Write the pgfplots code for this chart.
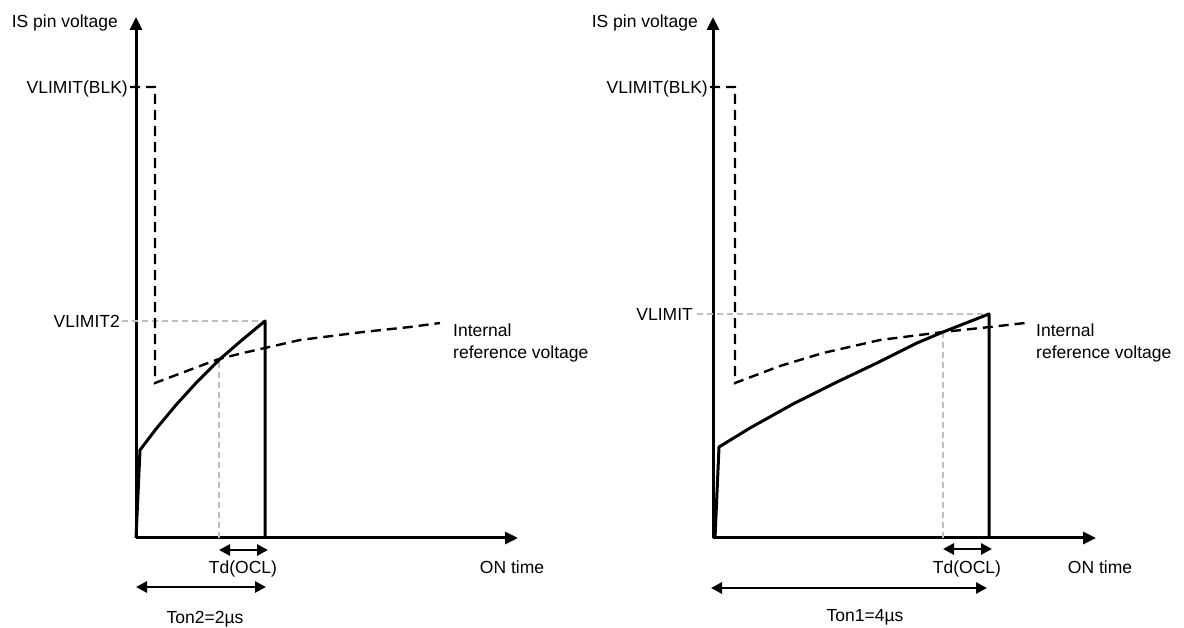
\documentclass[border=0pt]{standalone}
\usepackage{pgfplots}
\pgfplotsset{compat=1.18}
\usetikzlibrary{arrows.meta}
\usepackage{fontspec}
\setmainfont{Liberation Sans}

\tikzset{
  wave/.style={black, line width=3bp, line join=round},
  blk/.style={black, line width=2.4bp, dash pattern=on 10bp off 6bp},
  guide/.style={black!25, line width=1.4bp, dash pattern=on 6bp off 4bp},
  span/.style={black, line width=2.8bp,
    {Triangle[length=11bp,width=11bp]}-{Triangle[length=11bp,width=11bp]}},
  lbl/.style={font=\fontsize{17.5bp}{21bp}\selectfont, inner sep=0pt, yshift=-6.2bp},
}
\pgfplotsset{
  panel/.style={
    x=1bp, y=1bp, anchor=origin, clip=false,
    axis lines=left, xtick=\empty, ytick=\empty,
    axis line style={line width=3bp, -{Triangle[length=13bp,width=12bp]}},
    ymin=0, ymax=521,
  },
}

\begin{document}
\begin{tikzpicture}
\useasboundingbox (0,0) rectangle (1184bp,628bp);

% left panel: Ton2 = 2us
\begin{axis}[panel, at={(136bp,90bp)}, xmin=0, xmax=382]
\addplot[guide] coordinates {(-14,217) (129,217)};
\addplot[guide] coordinates {(83,0) (83,178)};
\addplot[blk] coordinates {
  (-6,451) (19,451) (19,155) (64,172) (83,179) (107,185)
  (164,198) (227,206) (274,211) (304,215)};
\addplot[wave] coordinates {
  (0,0) (4,88) (20,109) (40,133) (60,155) (83,178)
  (106,198) (129,217) (129,0)};
\addplot[span] coordinates {(83,-12) (132,-12)};
\addplot[span] coordinates {(0,-49) (130,-49)};

\node[lbl, anchor=base east] at (axis cs:-18,517) {IS pin voltage};
\node[lbl, anchor=base east] at (axis cs:-8,451) {VLIMIT(BLK)};
\node[lbl, anchor=base east] at (axis cs:-16,217) {VLIMIT2};
\node[lbl, anchor=base west] at (axis cs:317,208) {Internal};
\node[lbl, anchor=base west] at (axis cs:317,186) {reference voltage};
\node[lbl, anchor=base] at (axis cs:107,-29) {Td(OCL)};
\node[lbl, anchor=base] at (axis cs:376,-29) {ON time};
\node[lbl, anchor=base] at (axis cs:69,-79) {Ton2=2µs};
\end{axis}

% right panel: Ton1 = 4us
\begin{axis}[panel, at={(713bp,90bp)}, xmin=0, xmax=383]
\addplot[guide] coordinates {(-16,224) (276,224)};
\addplot[guide] coordinates {(230,0) (230,206)};
\addplot[blk] coordinates {
  (-3,451) (22,451) (22,155) (67,172) (110,185) (167,198)
  (230,206) (277,211) (312,215)};
\addplot[wave] coordinates {
  (2,0) (6,91) (37,110) (80,134) (124,156) (164,175)
  (204,195) (230,206) (276,224) (276,0)};
\addplot[span] coordinates {(230,-11) (279,-11)};
\addplot[span] coordinates {(-2,-50) (274,-50)};

\node[lbl, anchor=base east] at (axis cs:-15,517) {IS pin voltage};
\node[lbl, anchor=base east] at (axis cs:-5,451) {VLIMIT(BLK)};
\node[lbl, anchor=base east] at (axis cs:-20,224) {VLIMIT};
\node[lbl, anchor=base west] at (axis cs:323,208) {Internal};
\node[lbl, anchor=base west] at (axis cs:323,186) {reference voltage};
\node[lbl, anchor=base] at (axis cs:254,-29) {Td(OCL)};
\node[lbl, anchor=base] at (axis cs:387,-29) {ON time};
\node[lbl, anchor=base] at (axis cs:152,-77) {Ton1=4µs};
\end{axis}
\end{tikzpicture}
\end{document}
